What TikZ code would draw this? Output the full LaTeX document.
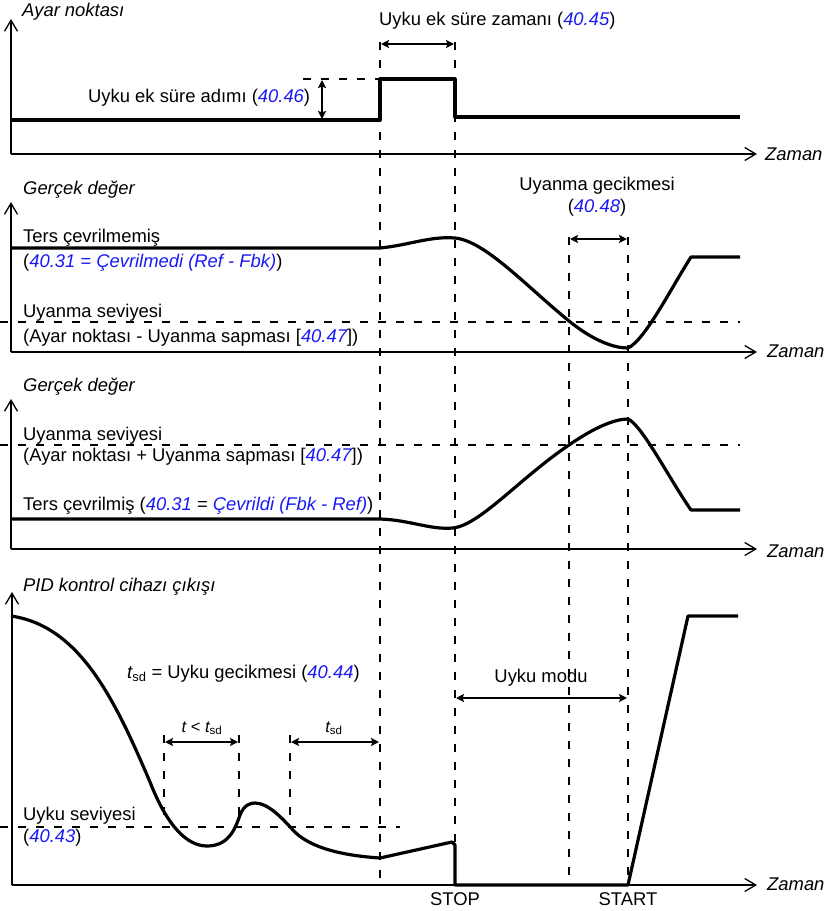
\documentclass[tikz,border=0pt]{standalone}
\usepackage{fontspec}
\setmainfont{Liberation Sans}
\usetikzlibrary{arrows.meta}
\definecolor{parblue}{RGB}{25,25,245}
\newcommand{\pnum}[1]{{\color{parblue}\itshape #1}}
\newcommand{\tsd}{{\itshape t}\textsubscript{sd}}
\begin{document}
\begin{tikzpicture}[x=1pt,y=-1pt,
  axis/.style={line width=1.8pt, -{Straight Barb[length=11pt,width=13pt,line width=1.3pt]}},
  signal/.style={line width=3.2pt, line join=round},
  guide/.style={line width=1.8pt, dash pattern=on 8pt off 10pt},
  dim/.style={line width=2pt, {Stealth[length=8pt,width=8pt,inset=1.5pt]}-{Stealth[length=8pt,width=8pt,inset=1.5pt]}},
  lbl/.style={anchor=base west, inner sep=0pt, font=\fontsize{18.4}{22}\selectfont},
  clbl/.style={anchor=base, inner sep=0pt, font=\fontsize{18.4}{22}\selectfont},
  slbl/.style={anchor=base, inner sep=0pt, font=\fontsize{16.5}{19}\selectfont},
  title/.style={lbl, font=\fontsize{18.4}{22}\selectfont\itshape}]
\useasboundingbox (0,0) rectangle (824,911);

% ---------- long vertical guides through all panels ----------
\draw[guide] (380,42) -- (380,886);
\draw[guide] (455,42) -- (455,886);
\draw[guide] (569,237) -- (569,886);
\draw[guide] (628,237) -- (628,886);

% ---------- panel 1: setpoint ----------
\draw[axis] (11,154) -- (11,19);
\draw[axis] (11,154) -- (757,154);
\node[title] (t1) at (22,16) {Ayar noktası};
\node[title] (z1) at (765,160) {Zaman};
\draw[signal] (11,120) -- (380,120) -- (380,79) -- (455,79) -- (455,117) -- (740,117);
\draw[guide] (303,79) -- (380,79);
\draw[dim] (322,80) -- (322,119);
\draw[dim] (381,44) -- (454,44);
\node[lbl] (boostt) at (379,25) {Uyku ek süre zamanı (\pnum{40.45})};
\node[lbl] (boosts) at (88,102) {Uyku ek süre adımı (\pnum{40.46})};

% ---------- panel 2: actual value, not inverted ----------
\draw[axis] (11,352) -- (11,202);
\draw[axis] (11,352) -- (757,352);
\node[title] (t2) at (23,194) {Gerçek değer};
\node[title] (z2) at (767,357) {Zaman};
\draw[guide] (0,322) -- (740,322);
\draw[signal] (11,248) -- (380,248)
  .. controls (410,245) and (430,236) .. (455,238)
  .. controls (485,241) and (525,285) .. (569,321)
  .. controls (595,342) and (615,348) .. (628,348)
  .. controls (645,340) and (670,290) .. (691,257) -- (740,257);
\node[lbl] (ni1) at (23,242) {Ters çevrilmemiş};
\node[lbl] (ni2) at (23,267) {(\pnum{40.31 = Çevrilmedi (Ref - Fbk)})};
\node[lbl] (wl1) at (23,317) {Uyanma seviyesi};
\node[lbl] (wl2) at (23,342) {(Ayar noktası - Uyanma sapması [\pnum{40.47}])};
\draw[dim] (570,239) -- (627,239);
\node[clbl] (wd1) at (597,190) {Uyanma gecikmesi};
\node[clbl] (wd2) at (597,212) {(\pnum{40.48})};

% ---------- panel 3: actual value, inverted ----------
\draw[axis] (11,549) -- (11,399);
\draw[axis] (11,549) -- (757,549);
\node[title] (t3) at (23,391) {Gerçek değer};
\node[title] (z3) at (767,557) {Zaman};
\draw[guide] (0,445) -- (740,445);
\draw[signal] (11,519) -- (380,519)
  .. controls (410,520) and (430,530) .. (453,528)
  .. controls (480,525) and (520,478) .. (569,445)
  .. controls (595,427) and (615,419) .. (628,419)
  .. controls (642,425) and (670,480) .. (691,510) -- (740,510);
\node[lbl] (wl3) at (23,440) {Uyanma seviyesi};
\node[lbl] (wl4) at (23,461) {(Ayar noktası + Uyanma sapması [\pnum{40.47}])};
\node[lbl] (inv) at (23,510) {Ters çevrilmiş (\pnum{40.31} = \pnum{Çevrildi (Fbk - Ref)})};

% ---------- panel 4: PID output ----------
\draw[axis] (12,885) -- (12,592);
\draw[axis] (12,885) -- (757,885);
\node[title] (t4) at (23,591) {PID kontrol cihazı çıkışı};
\node[title] (z4) at (767,890) {Zaman};
\draw[guide] (0,827) -- (400,827);
\draw[guide] (164,735) -- (164,816);
\draw[guide] (239,735) -- (239,816);
\draw[guide] (290,735) -- (290,822);
\draw[signal] (11,616)
  .. controls (80,626) and (115,700) .. (150,782)
  .. controls (168,828) and (188,846) .. (207,846)
  .. controls (228,846) and (235,830) .. (240,815)
  .. controls (244,805) and (250,803) .. (255,803)
  .. controls (268,803) and (282,818) .. (292,829)
  .. controls (310,850) and (350,856) .. (380,858)
  -- (452,842) -- (455,845) -- (455,885) -- (628,885) -- (688,616) -- (738,616);
\draw[dim] (165,742) -- (238,742);
\draw[dim] (291,742) -- (379,742);
\node[slbl] (lt) at (202,732) {{\itshape t} < \tsd};
\node[slbl] (ls) at (334,732) {\tsd};
\node[lbl] (sd) at (127,678) {\tsd{} = Uyku gecikmesi (\pnum{40.44})};
\draw[dim] (456,698) -- (627,698);
\node[clbl] (sm) at (541,682) {Uyku modu};
\node[lbl] (sl1) at (23,820) {Uyku seviyesi};
\node[lbl] (sl2) at (23,842) {(\pnum{40.43})};
\node[clbl] (stop) at (455,905) {STOP};
\node[clbl] (start) at (628,905) {START};
\end{tikzpicture}
\end{document}
